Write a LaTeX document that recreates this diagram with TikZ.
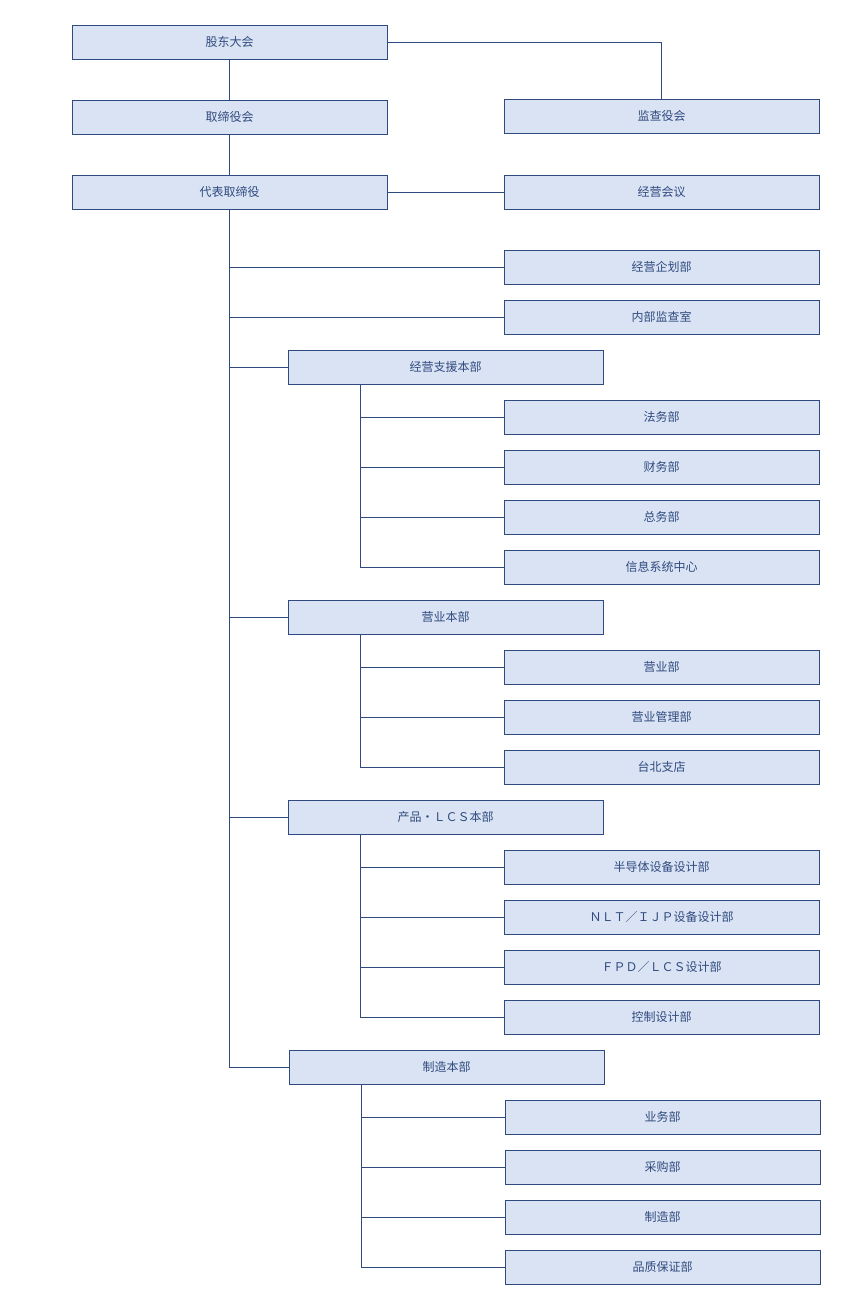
\documentclass[tikz,border=0pt]{standalone}
\usepackage{fontspec}
\setmainfont{Noto Sans CJK SC}
\usetikzlibrary{positioning}
\definecolor{mline}{HTML}{2F4A7F}
\definecolor{mfill}{HTML}{DAE3F3}
\tikzstyle{l2}=[line width=0.9, draw=mline]
\tikzstyle{unit}=[rectangle, l2, fill=mfill, minimum width=315, minimum height=34, inner sep=0pt, text=mline, font=\fontsize{12}{14}\selectfont]

\begin{document}
\begin{tikzpicture}[x=1pt, y=-1pt]
    \useasboundingbox (0,0) rectangle (865,1301);
    % top
    \node[unit] at (229.5,42) (agm) {股东大会};
    \node[unit] at (229.5,117) (board) {取缔役会};
    \node[unit] at (229.5,192) (ceo) {代表取缔役};
    \node[unit] at (661.5,116) (audit) {监查役会};
    \node[unit] at (661.5,192) (meeting) {经营会议};
    \node[unit] at (661.5,267) (plan) {经营企划部};
    \node[unit] at (661.5,317) (inner) {内部监查室};
    % divisions
    \node[unit] at (445.5,367) (d1) {经营支援本部};
    \node[unit] at (661.5,417) (d1a) {法务部};
    \node[unit] at (661.5,467) (d1b) {财务部};
    \node[unit] at (661.5,517) (d1c) {总务部};
    \node[unit] at (661.5,567) (d1d) {信息系统中心};
    \node[unit] at (445.5,617) (d2) {营业本部};
    \node[unit] at (661.5,667) (d2a) {营业部};
    \node[unit] at (661.5,717) (d2b) {营业管理部};
    \node[unit] at (661.5,767) (d2c) {台北支店};
    \node[unit] at (445.5,817) (d3) {产品・ＬＣＳ本部};
    \node[unit] at (661.5,867) (d3a) {半导体设备设计部};
    \node[unit] at (661.5,917) (d3b) {ＮＬＴ／ＩＪＰ设备设计部};
    \node[unit] at (661.5,967) (d3c) {ＦＰＤ／ＬＣＳ设计部};
    \node[unit] at (661.5,1017) (d3d) {控制设计部};
    \node[unit] at (446.5,1067) (d4) {制造本部};
    \node[unit] at (662.5,1117) (d4a) {业务部};
    \node[unit] at (662.5,1167) (d4b) {采购部};
    \node[unit] at (662.5,1217) (d4c) {制造部};
    \node[unit] at (662.5,1267) (d4d) {品质保证部};
    \coordinate (s1) at (360.5,0);
    \coordinate (s4) at (361.5,0);

    \draw[l2] (agm) -- (board) -- (ceo);
    \draw[l2] (agm.east) -| (audit.north);
    \draw[l2] (ceo) -- (meeting);
    \draw[l2] (ceo.south) |- (d4.west);
    \foreach \n in {plan,inner,d1,d2,d3}
        \draw[l2] (\n.west -| ceo.south) -- (\n.west);
    \foreach \d/\c in {d1/d1d,d2/d2c,d3/d3d}
        \draw[l2] (\d.south -| s1) |- (\c.west);
    \draw[l2] (d4.south -| s4) |- (d4d.west);
    \foreach \n in {d1a,d1b,d1c,d2a,d2b,d3a,d3b,d3c}
        \draw[l2] (\n.west -| s1) -- (\n.west);
    \foreach \n in {d4a,d4b,d4c}
        \draw[l2] (\n.west -| s4) -- (\n.west);
\end{tikzpicture}
\end{document}
